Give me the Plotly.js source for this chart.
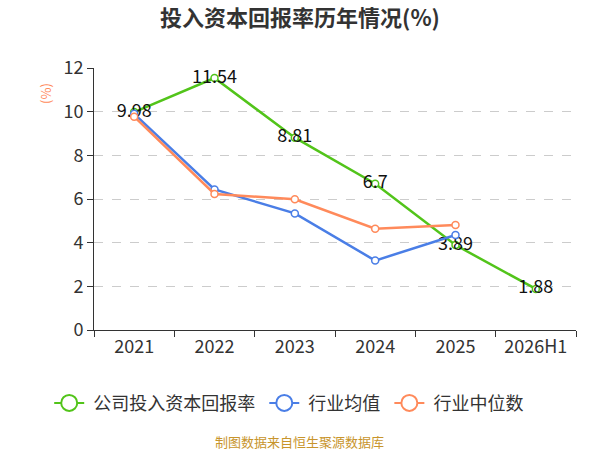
<!DOCTYPE html>
<html>
<head>
<meta charset="utf-8">
<script src="https://cdn.plot.ly/plotly-3.0.1.min.js"></script>
<style>
  html, body { margin: 0; padding: 0; background: #fff; }
  #chart { width: 600px; height: 450px; }
</style>
</head>
<body>
<div id="chart"></div>
<script>
var years = ["2021", "2022", "2023", "2024", "2025", "2026H1"];
var company = [9.98, 11.54, 8.81, 6.7, 3.89, 1.88];
var industryAvg = [9.9, 6.44, 5.34, 3.18, 4.35];
var industryMedian = [9.77, 6.23, 5.99, 4.64, 4.81];
var yTicks = [0, 2, 4, 6, 8, 10, 12];

var cnFont = "'Noto Sans CJK SC', 'Noto Sans', sans-serif";
var sp = "\u00a0";

function lineTrace(name, x, y, color, withText) {
    var t = {
        x: x,
        y: y,
        type: "scatter",
        mode: withText ? "lines+markers+text" : "lines+markers",
        name: name,
        showlegend: false,
        line: { color: color, width: 2.5 },
        marker: { size: 7, color: "#ffffff", line: { color: color, width: 1.5 } },
        cliponaxis: false
    };
    if (withText) {
        t.text = y.map(function (v) { return String(v); });
        t.textposition = "middle center";
        t.textfont = { family: cnFont, size: 18, color: "#111111" };
    }
    return t;
}

// legend-only entries, so the legend symbol can be drawn larger than the markers
function legendEntry(name, color) {
    return {
        x: [null],
        y: [null],
        type: "scatter",
        mode: "lines+markers",
        name: name,
        line: { color: color, width: 2 },
        marker: { size: 17, color: "#ffffff", line: { color: color, width: 2 } }
    };
}

var data = [
    lineTrace("公司投入资本回报率", years, company, "#52c41a", true),
    lineTrace("行业均值", years.slice(0, 5), industryAvg, "#4a7ee6", false),
    lineTrace("行业中位数", years.slice(0, 5), industryMedian, "#ff8a5b", false),
    legendEntry(sp + "公司投入资本回报率" + sp, "#52c41a"),
    legendEntry(sp + "行业均值" + sp, "#4a7ee6"),
    legendEntry(sp + "行业中位数", "#ff8a5b")
];

var layout = {
    width: 600,
    height: 450,
    paper_bgcolor: "#ffffff",
    plot_bgcolor: "#ffffff",
    font: { family: cnFont, size: 18, color: "#333333" },
    title: {
        text: "<b>投入资本回报率历年情况(%)</b>",
        x: 0.5,
        xanchor: "center",
        y: 0.96,
        yanchor: "middle",
        font: { family: cnFont, size: 22, color: "#333333" }
    },
    margin: { l: 94, r: 24, t: 68, b: 120, pad: 0 },
    xaxis: {
        type: "category",
        range: [-0.5, 5.5],
        tickson: "boundaries",
        ticks: "outside",
        ticklen: 6,
        tickcolor: "#333333",
        showline: true,
        linecolor: "#333333",
        linewidth: 1,
        showgrid: false,
        fixedrange: true,
        tickfont: { family: cnFont, size: 18, color: "#333333" }
    },
    yaxis: {
        range: [0, 12],
        tickvals: yTicks,
        ticks: "outside",
        ticklen: 6,
        tickcolor: "#333333",
        showline: true,
        linecolor: "#333333",
        linewidth: 1,
        showgrid: true,
        gridcolor: "#cccccc",
        griddash: "dash",
        zeroline: false,
        fixedrange: true,
        tickfont: { family: cnFont, size: 18, color: "#333333" }
    },
    legend: {
        orientation: "h",
        xref: "container",
        yref: "container",
        x: 0.082,
        xanchor: "left",
        y: 0.104,
        yanchor: "middle",
        font: { family: cnFont, size: 18, color: "#333333" }
    },
    annotations: [
        {
            text: "(%)",
            xref: "paper",
            yref: "paper",
            x: -0.0996,
            y: 0.905,
            xanchor: "center",
            yanchor: "middle",
            textangle: -90,
            showarrow: false,
            font: { family: cnFont, size: 13, color: "#ff8a5b" }
        },
        {
            text: "制图数据来自恒生聚源数据库",
            xref: "paper",
            yref: "paper",
            x: 0.427,
            y: -0.424,
            xanchor: "center",
            yanchor: "middle",
            showarrow: false,
            font: { family: cnFont, size: 13, color: "#c8952c" }
        }
    ]
};

Plotly.newPlot("chart", data, layout, { displayModeBar: false, staticPlot: true });
</script>
</body>
</html>
